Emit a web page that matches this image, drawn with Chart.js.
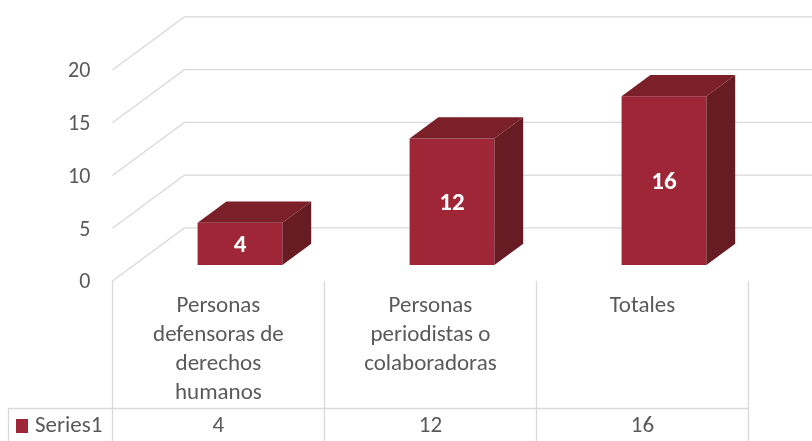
<!DOCTYPE html>
<html>
<head>
<meta charset="utf-8">
<script src="https://cdn.jsdelivr.net/npm/chart.js@4/dist/chart.umd.min.js"></script>
<style>
  html, body { margin: 0; padding: 0; background: #fff; }
  canvas { display: block; }
</style>
</head>
<body>
<canvas id="grafico" width="812" height="441"></canvas>
<script>
// Datos del gráfico
const categorias = [
    ['Personas', 'defensoras de', 'derechos', 'humanos'],
    ['Personas', 'periodistas o', 'colaboradoras'],
    ['Totales']
];
const valores = [4, 12, 16];
const nombreSerie = 'Series1';
const ticksY = [0, 5, 10, 15, 20];

// Estilo
const FUENTE = 'Carlito, Lato, sans-serif';
const GRIS_TEXTO = '#595959';
const GRIS_LINEA = '#d9d9d9';
const COLOR_FRENTE = '#9e2636';
const COLOR_ARRIBA = '#7b1f29';
const COLOR_LADO = '#671b22';

// Profundidad del efecto 3D (toda la caja) y posición de la barra dentro de ella
const PROF = { dx: 72, dy: -53 };
const INICIO_BARRA = 0.3;
const FONDO_BARRA = 0.4;

// Paredes, rejilla, etiquetas del eje y tabla de datos
const pared3d = {
    id: 'pared3d',
    beforeDatasetsDraw(chart) {
        const { ctx, chartArea, scales: { x, y } } = chart;
        const frenteX = -INICIO_BARRA * PROF.dx, frenteY = -INICIO_BARRA * PROF.dy;
        const atrasX = (1 - INICIO_BARRA) * PROF.dx, atrasY = (1 - INICIO_BARRA) * PROF.dy;

        ctx.save();
        ctx.strokeStyle = GRIS_LINEA;
        ctx.lineWidth = 1.3;
        ctx.font = '22px ' + FUENTE;
        ctx.fillStyle = GRIS_TEXTO;
        ctx.textAlign = 'right';
        ctx.textBaseline = 'middle';
        ticksY.forEach(t => {
            const ym = y.getPixelForValue(t);
            ctx.beginPath();
            ctx.moveTo(chartArea.left + frenteX, ym + frenteY);
            ctx.lineTo(chartArea.left + atrasX, ym + atrasY);
            ctx.lineTo(chartArea.right + atrasX, ym + atrasY);
            ctx.stroke();
            ctx.fillText(String(t), chartArea.left + frenteX - 22, ym + frenteY + 2);
        });

        // Tabla de datos bajo el gráfico
        const pisoY = y.getPixelForValue(0) + frenteY;
        const ancho = (chartArea.right - chartArea.left) / categorias.length;
        const izq = chartArea.left + frenteX;
        const abajo = chart.height;
        const filaSerie = abajo - 33;

        ctx.beginPath();
        for (let k = 0; k <= categorias.length; k++) {
            const xl = Math.round(izq + k * ancho) + 0.5;
            ctx.moveTo(xl, pisoY);
            ctx.lineTo(xl, abajo);
        }
        ctx.moveTo(8.5, filaSerie);
        ctx.lineTo(8.5, abajo);
        ctx.moveTo(8, Math.round(filaSerie) + 0.5);
        ctx.lineTo(izq + categorias.length * ancho, Math.round(filaSerie) + 0.5);
        ctx.stroke();

        ctx.font = '23px ' + FUENTE;
        ctx.textAlign = 'center';
        categorias.forEach((lineas, i) => {
            const cx = izq + (i + 0.5) * ancho;
            lineas.forEach((l, j) => ctx.fillText(l, cx, pisoY + 25 + j * 29));
            ctx.fillText(String(valores[i]), cx, filaSerie + 18);
        });

        ctx.fillStyle = COLOR_FRENTE;
        ctx.fillRect(16, filaSerie + 11, 12, 14);
        ctx.fillStyle = GRIS_TEXTO;
        ctx.textAlign = 'left';
        ctx.fillText(nombreSerie, 35, filaSerie + 18);
        ctx.restore();
    },
    afterDatasetsDraw(chart) {
        const { ctx } = chart;
        const bx = FONDO_BARRA * PROF.dx, by = FONDO_BARRA * PROF.dy;
        const meta = chart.getDatasetMeta(0);
        ctx.save();
        meta.data.forEach((barra, i) => {
            const { x, y, base, width } = barra.getProps(['x', 'y', 'base', 'width'], true);
            const l = x - width / 2, r = x + width / 2;
            // cara superior
            ctx.fillStyle = COLOR_ARRIBA;
            ctx.beginPath();
            ctx.moveTo(l, y);
            ctx.lineTo(l + bx, y + by);
            ctx.lineTo(r + bx, y + by);
            ctx.lineTo(r, y);
            ctx.closePath();
            ctx.fill();
            // cara lateral
            ctx.fillStyle = COLOR_LADO;
            ctx.beginPath();
            ctx.moveTo(r, y);
            ctx.lineTo(r + bx, y + by);
            ctx.lineTo(r + bx, base + by);
            ctx.lineTo(r, base);
            ctx.closePath();
            ctx.fill();
            // etiqueta del valor
            ctx.fillStyle = '#ffffff';
            ctx.font = 'bold 25px ' + FUENTE;
            ctx.textAlign = 'center';
            ctx.textBaseline = 'middle';
            ctx.fillText(String(valores[i]), x, (y + base) / 2 + 2);
        });
        ctx.restore();
    }
};

new Chart(document.getElementById('grafico').getContext('2d'), {
    type: 'bar',
    data: {
        labels: categorias,
        datasets: [{
            label: nombreSerie,
            data: valores,
            backgroundColor: COLOR_FRENTE,
            borderWidth: 0,
            categoryPercentage: 1,
            barPercentage: 0.4
        }]
    },
    options: {
        responsive: false,
        animation: false,
        layout: { padding: { left: 134, right: 42, top: 54, bottom: 176 } },
        scales: {
            x: { display: false },
            y: { display: false, min: 0, max: 20, ticks: { stepSize: 5 } }
        },
        plugins: {
            legend: { display: false },
            tooltip: { enabled: false }
        }
    },
    plugins: [pared3d]
});
</script>
</body>
</html>
